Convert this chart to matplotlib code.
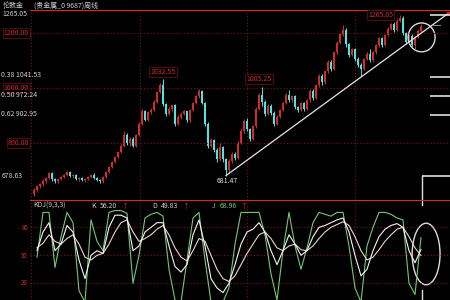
import numpy as np
import matplotlib.pyplot as plt
from matplotlib.patches import Ellipse

plt.rcParams['font.family'] = ['Noto Sans CJK SC', 'DejaVu Sans']

## weekly candles (London gold)
opens = [615, 630, 642, 650, 662, 672, 690, 668, 660, 670, 676, 684, 694, 680, 684, 668, 672, 664, 670, 676,
         684, 672, 666, 660, 676, 694, 712, 730, 748, 768, 790, 830, 800, 815, 790, 830, 870, 915, 885, 912,
         920, 950, 985, 1012, 940, 905, 925, 938, 870, 895, 905, 915, 882, 920, 945, 970, 988, 945, 870, 790,
         810, 775, 740, 785, 740, 700, 735, 760, 745, 800, 845, 880, 850, 815, 860, 925, 975, 950, 905, 935,
         910, 870, 895, 920, 945, 975, 955, 970, 930, 920, 945, 925, 955, 990, 965, 1010, 1045, 1020, 1060, 1095,
         1070, 1130, 1165, 1195, 1212, 1160, 1120, 1140, 1105, 1085, 1070, 1105, 1125, 1100, 1130, 1155, 1180, 1158, 1192, 1215,
         1232, 1212, 1245, 1256, 1200, 1168, 1190, 1156, 1185, 1208]
closes = [630, 642, 650, 662, 672, 690, 668, 660, 670, 676, 684, 694, 680, 684, 668, 672, 664, 670, 676, 684,
          672, 666, 660, 676, 694, 712, 730, 748, 768, 790, 830, 800, 815, 790, 830, 870, 915, 885, 912, 920,
          950, 985, 1012, 940, 905, 925, 938, 870, 895, 905, 915, 882, 920, 945, 970, 988, 945, 870, 790, 810,
          775, 740, 785, 740, 700, 735, 760, 745, 800, 845, 880, 850, 815, 860, 925, 975, 950, 905, 935, 910,
          870, 895, 920, 945, 975, 955, 970, 930, 920, 945, 925, 955, 990, 965, 1010, 1045, 1020, 1060, 1095, 1070,
          1130, 1165, 1195, 1212, 1160, 1120, 1140, 1105, 1085, 1070, 1105, 1125, 1100, 1130, 1155, 1180, 1158, 1192, 1215, 1232,
          1212, 1245, 1256, 1200, 1168, 1190, 1156, 1185, 1208, 1225]
highs = [638, 648, 656, 668, 678, 696, 694, 672, 674, 680, 688, 698, 698, 688, 688, 676, 676, 674, 680, 688,
         690, 676, 670, 680, 698, 716, 734, 752, 772, 795, 842, 836, 822, 820, 834, 876, 922, 920, 918, 928,
         956, 990, 1018, 1032.55, 945, 930, 942, 942, 900, 912, 920, 918, 925, 950, 975, 995, 992, 950, 875, 818,
         815, 780, 800, 790, 745, 740, 766, 768, 806, 850, 886, 892, 856, 866, 930, 982, 1005.25, 955, 940, 942,
         915, 900, 925, 950, 980, 992, 976, 974, 936, 950, 950, 960, 995, 996, 1016, 1050, 1052, 1066, 1100, 1102,
         1135, 1170, 1200, 1228, 1218, 1165, 1145, 1145, 1112, 1092, 1110, 1130, 1140, 1136, 1160, 1186, 1185, 1198, 1220, 1238,
         1240, 1250, 1265.05, 1260, 1205, 1196, 1196, 1190, 1214, 1232]
lows = [608, 625, 636, 645, 656, 668, 662, 655, 656, 665, 672, 680, 676, 674, 664, 662, 660, 658, 666, 672,
        668, 662, 655, 656, 672, 690, 708, 726, 744, 764, 786, 792, 790, 785, 786, 826, 866, 880, 880, 905,
        916, 945, 980, 935, 898, 900, 918, 862, 864, 888, 900, 876, 878, 915, 940, 962, 940, 862, 782, 784,
        768, 730, 736, 732, 681.47, 695, 728, 738, 740, 795, 838, 845, 808, 810, 855, 920, 935, 898, 900, 902,
        862, 865, 890, 915, 940, 950, 948, 925, 912, 915, 918, 920, 950, 958, 960, 1005, 1012, 1015, 1055, 1062,
        1065, 1125, 1160, 1190, 1150, 1112, 1115, 1098, 1075, 1045, 1065, 1100, 1095, 1095, 1125, 1150, 1150, 1152, 1188, 1210,
        1205, 1208, 1240, 1192, 1160, 1162, 1148, 1140, 1180, 1202]

## KDJ(9,3,3), read every second week
kdj_week = list(range(1, 130, 2))
k_vals = [55, 75, 85, 55, 62, 82, 75, 45, 25, 50, 55, 52, 80, 93, 93, 90, 55, 60, 75, 80,
          85, 85, 60, 38, 32, 40, 72, 88, 60, 25, 15, 10, 20, 40, 62, 75, 78, 85, 75, 55,
          40, 55, 72, 62, 50, 55, 70, 80, 82, 85, 88, 90, 75, 50, 28, 35, 55, 70, 78, 82,
          84, 80, 55, 42, 56.20]
d_vals = [58, 63, 72, 65, 62, 68, 72, 62, 48, 45, 50, 52, 62, 75, 85, 88, 75, 65, 68, 72,
          78, 82, 72, 58, 48, 44, 55, 68, 65, 50, 35, 25, 22, 28, 40, 52, 62, 72, 75, 68,
          58, 55, 60, 62, 56, 55, 60, 68, 75, 80, 83, 86, 82, 70, 55, 45, 48, 56, 65, 72,
          78, 80, 70, 58, 49.83]
j_vals = [48, 96, 96, 37, 70, 96, 85, 12, 0, 88, 65, 55, 96, 98, 98, 95, 20, 50, 90, 94,
          96, 92, 35, 2, 0, 45, 90, 96, 45, 0, 0, 0, 15, 62, 96, 96, 96, 96, 72, 30,
          2, 55, 96, 60, 35, 58, 85, 96, 94, 92, 96, 96, 60, 15, 0, 60, 80, 96, 96, 94,
          90, 88, 20, 8, 68.96]

fib_levels = [1265.05, 1041.53, 972.24, 902.95, 678.63]
fib_names = ['', '0.38', '0.50', '0.62', '']
price_grid = [1200, 1000, 800]
kdj_grid = [80, 50, 20]
year_lines = [35.3, 71, 107]
trend_start = (64, 681.47)
trend_end = (138.3, 1273)

RED = '#d42a2a'
CYAN = '#4fe3e3'
GRID = '#7a1616'
TXT = '#cfcfcf'

fig = plt.figure(figsize=(4.5, 3), dpi=100, facecolor='black')
ax = fig.add_axes([30/450, 100/300, 420/450, 190/300], facecolor='black')
ax2 = fig.add_axes([30/450, 0, 420/450, 100/300], facecolor='black')

def px(x, y):
    return x/450, 1 - y/300

for a in (ax, ax2):
    a.set_xlim(-1.333, 138.667)
    a.set_xticks([])
    a.set_yticks([])
    for s in a.spines.values():
        s.set_visible(False)
    a.spines['top'].set_visible(True)
    a.spines['top'].set_color(RED)
    a.spines['top'].set_linewidth(0.8)
    a.axvline(-1.0, color=GRID, ls=(0, (1, 2)), lw=0.8)
    for v in year_lines:
        a.axvline(v, color=GRID, ls=(0, (1, 2)), lw=0.8)

ax.set_ylim(592.7, 1283.6)
ax2.set_ylim(2.1, 109.3)

for p in price_grid:
    ax.axhline(p, color=GRID, ls=(0, (1, 2)), lw=0.8)
for v in kdj_grid:
    ax2.axhline(v, color=GRID, ls=(0, (1, 2)), lw=0.8)

# candles
o = np.array(opens)
c = np.array(closes)
idx = np.arange(len(c))
cols = np.where(c >= o, RED, CYAN)
ax.vlines(idx, lows, highs, colors=cols, lw=0.7)
ax.bar(idx, np.maximum(np.abs(c - o), 4), bottom=np.minimum(o, c), width=0.85, color=cols, lw=0)

# trend line
ax.plot([trend_start[0], trend_end[0]], [trend_start[1], trend_end[1]], color='#e6e6e6', lw=0.9)
ax.plot([trend_end[0] - 0.3], [trend_end[1]], 's', color=RED, ms=2)

# fibonacci marks on the right
for lv in fib_levels:
    x0 = 129.3 if lv == fib_levels[-1] else 132
    ax.plot([x0, 138.667], [lv, lv], color='#e0e0e0', lw=1.2, solid_capstyle='butt')
ax.plot([132.7, 135.3], [1229, 1229], color='#888888', lw=0.8)
ax.plot([129.3, 129.3], [592.7, 678.63], color='#e0e0e0', lw=1.0)
ax2.plot([129.3, 129.3], [104, 109.3], color='#e0e0e0', lw=1.0)
ax2.plot([129.3, 129.3], [2.1, 12.9], color='#e0e0e0', lw=1.0)

# peak / trough labels
box = dict(boxstyle='square,pad=0.15', fc='black', ec='#5a1010', lw=0.6)
ax.text(43, 1032.55 + 12, '1032.55', color=RED, fontsize=5, ha='center', va='bottom', bbox=box)
ax.text(75, 1005.25 + 12, '1005.25', color=RED, fontsize=5, ha='center', va='bottom', bbox=box)
ax.text(119.7, 1265.05, '1265.05', color=RED, fontsize=5, ha='right', va='center', bbox=box)
ax.text(61, 681.47 - 6, '681.47', color='#d8e8e8', fontsize=5, ha='left', va='top')

ax.add_patch(Ellipse((129.2, 1184), 9, 105, fill=False, ec='#dcdcdc', lw=1.0))

# KDJ lines
ax2.plot(kdj_week, j_vals, color='#76c776', lw=0.8)
ax2.plot(kdj_week, d_vals, color='#e9d7c6', lw=0.8)
ax2.plot(kdj_week, k_vals, color='#f4f4f4', lw=0.8)
ax2.add_patch(Ellipse((130.7, 51.4), 9.3, 66, fill=False, ec='#dcdcdc', lw=1.0))

# left side texts
fig.text(*px(3, 6), '伦敦金', color=TXT, fontsize=5, va='center')
fig.text(*px(34, 6), '(贵金属_0 9687)周线', color=TXT, fontsize=5, va='center')
fig.text(*px(2, 14), '1265.05', color=TXT, fontsize=5, va='center')
rbox = dict(boxstyle='square,pad=0.15', fc='black', ec='#5a1010', lw=0.6)
for p, yy in zip(price_grid, [33, 88, 143]):
    fig.text(*px(29, yy), f'{p:.2f}', color=RED, fontsize=5, va='center', ha='right', bbox=rbox)
for name, lv, yy in zip(fib_names, fib_levels, [14, 75, 95, 114, 176]):
    if name:
        fig.text(*px(1, yy), f'{name} {lv:.2f}', color=TXT, fontsize=5, va='center')
fig.text(*px(2, 176), '678.63', color=TXT, fontsize=5, va='center')
for v, yy in zip(kdj_grid, [228, 256, 283]):
    fig.text(*px(28, yy), str(v), color=RED, fontsize=4.5, va='center', ha='right')

# KDJ header
hy = 206
fig.text(*px(33, hy), 'KDJ(9,3,3)', color=TXT, fontsize=5, va='center')
fig.text(*px(91, hy), 'K', color=TXT, fontsize=5, va='center')
fig.text(*px(100, hy), f'{k_vals[-1]:.2f}', color=TXT, fontsize=5, va='center')
fig.text(*px(121, hy), '↑', color=RED, fontsize=5, va='center')
fig.text(*px(152, hy), 'D', color=TXT, fontsize=5, va='center')
fig.text(*px(161, hy), f'{d_vals[-1]:.2f}', color=TXT, fontsize=5, va='center')
fig.text(*px(182, hy), '↑', color=RED, fontsize=5, va='center')
fig.text(*px(212, hy), 'J', color='#76c776', fontsize=5, va='center')
fig.text(*px(220, hy), f'{j_vals[-1]:.2f}', color='#76c776', fontsize=5, va='center')
fig.text(*px(240, hy), '↑', color=RED, fontsize=5, va='center')

plt.savefig('out.png', dpi=100, facecolor='black')
